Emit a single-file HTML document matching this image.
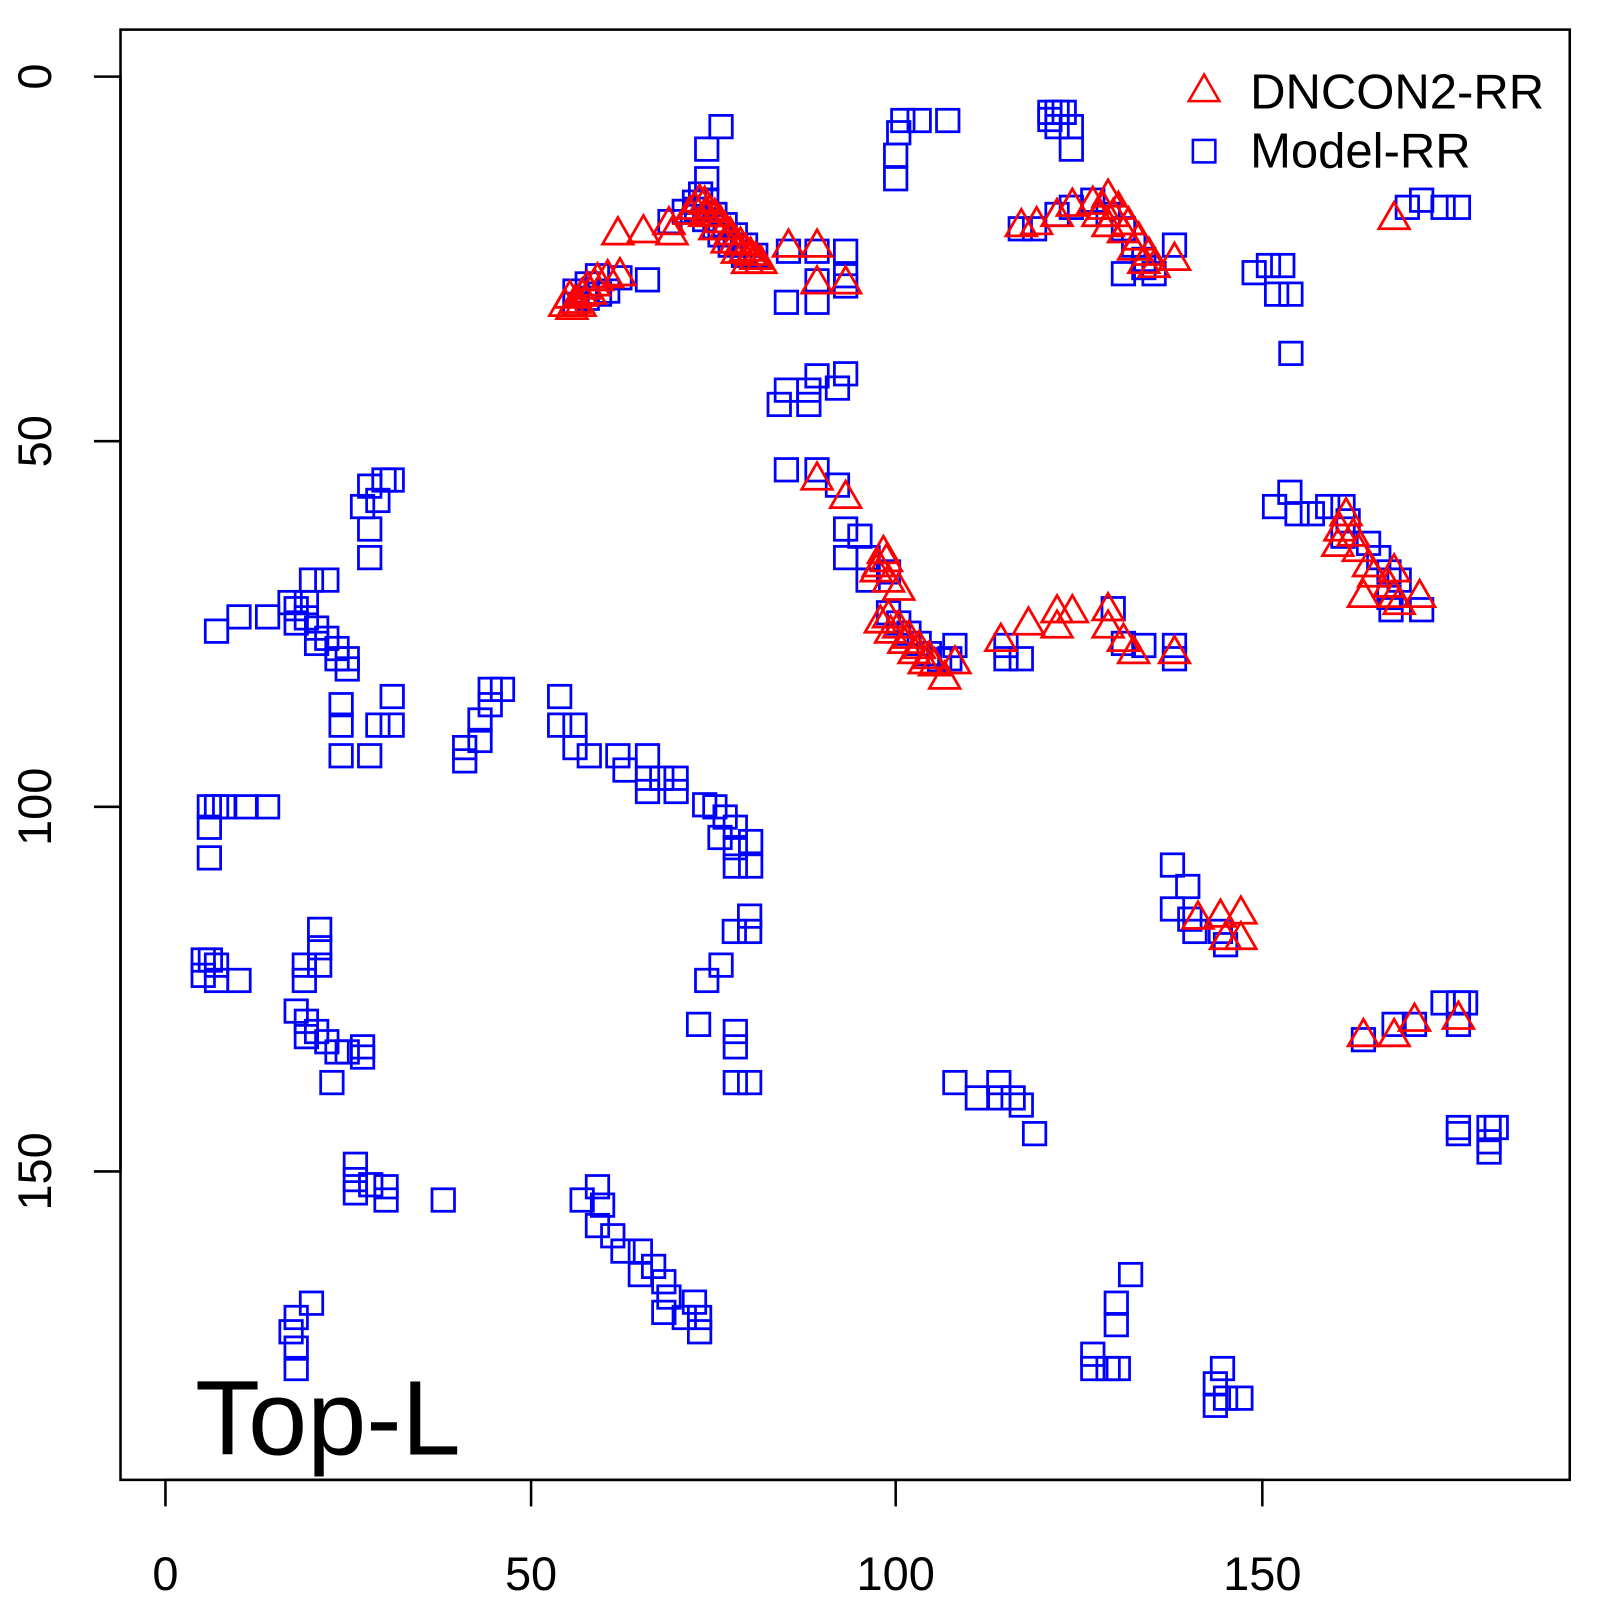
<!DOCTYPE html>
<html><head><meta charset="utf-8"><style>
html,body{margin:0;padding:0;background:#fff;}
svg{display:block;}
text{font-family:"Liberation Sans",sans-serif;}
</style></head><body>
<svg id="s" width="1600" height="1600" xmlns="http://www.w3.org/2000/svg">
<g transform="scale(1.0213)">
<rect x="118" y="29" width="1419" height="1420" fill="none" stroke="#000" stroke-width="2.5"/>
<g stroke="#000" stroke-width="2.5">
<line x1="162" y1="1449" x2="1236" y2="1449"/>
<line x1="162" y1="1449" x2="162" y2="1475"/><line x1="520" y1="1449" x2="520" y2="1475"/>
<line x1="877" y1="1449" x2="877" y2="1475"/><line x1="1236" y1="1449" x2="1236" y2="1475"/>
<line x1="118" y1="75" x2="118" y2="1147"/>
<line x1="92" y1="75" x2="118" y2="75"/><line x1="92" y1="432" x2="118" y2="432"/>
<line x1="92" y1="790" x2="118" y2="790"/><line x1="92" y1="1147" x2="118" y2="1147"/>
</g>
<g font-size="46" text-anchor="middle" fill="#000">
<text x="162" y="1557">0</text><text x="520" y="1557">50</text><text x="877" y="1557">100</text><text x="1236" y="1557">150</text>
<text transform="translate(50,75) rotate(-90)">0</text>
<text transform="translate(50,432) rotate(-90)">50</text>
<text transform="translate(50,790) rotate(-90)">100</text>
<text transform="translate(50,1147) rotate(-90)">150</text>
</g>
<text x="191" y="1424" font-size="104" fill="#000">Top-L</text>
<polygon points="1164,99 1194,99 1179,73" fill="none" stroke="#f00" stroke-width="2.5"/>
<rect x="1168" y="137" width="22" height="22" fill="none" stroke="#00f" stroke-width="2.5"/>
<text x="1224" y="106" font-size="48">DNCON2-RR</text>
<text x="1224" y="164" font-size="48">Model-RR</text>
<g id="sq" fill="none" stroke="#00f" stroke-width="2.7"></g>
<g id="tr" fill="none" stroke="#f00" stroke-width="2.7"></g>
</g>
</svg>
<script>
var S=[[563,285],[575,278],[585,270],[595,285],[563,298],[575,292],[587,288],[607,272],[634,274],[656,217],[670,207],[680,198],[692,196],[700,210],[710,220],[720,230],[730,240],[740,250],[705,230],[715,240],[728,250],[700,222],[690,215],[682,205],[772,246],[800,246],[828,246],[828,270],[800,275],[770,296],[800,296],[828,280],[692,146],[692,175],[706,124],[686,190],[877,152],[877,175],[884,118],[900,118],[928,118],[880,130],[1028,110],[1035,110],[1042,110],[1035,124],[1049,124],[1028,117],[1049,146],[999,224],[1013,224],[1035,210],[1049,203],[1070,196],[1085,210],[1100,224],[1110,240],[1120,254],[1130,268],[1100,268],[1150,240],[1120,262],[1228,267],[1242,260],[1256,260],[1250,288],[1264,288],[1264,346],[1392,196],[1413,203],[1428,203],[1378,203],[763,396],[770,382],[792,382],[792,396],[800,368],[820,380],[828,366],[770,460],[800,460],[820,475],[828,518],[842,525],[828,546],[850,546],[850,568],[870,560],[870,600],[880,610],[890,620],[900,630],[910,640],[920,646],[935,632],[930,645],[985,632],[985,645],[1000,645],[1090,596],[1100,630],[1120,632],[1150,632],[1150,645],[1248,496],[1263,482],[1270,503],[1285,503],[1300,496],[1315,496],[1320,510],[1315,525],[1340,532],[1350,546],[1360,560],[1370,568],[1362,597],[1392,597],[1360,585],[362,476],[376,470],[384,470],[370,490],[355,496],[362,518],[362,546],[305,568],[320,568],[212,618],[234,604],[262,604],[284,590],[290,596],[300,605],[310,615],[320,625],[330,635],[340,645],[340,655],[300,590],[290,610],[310,630],[330,645],[334,690],[334,710],[334,740],[362,740],[370,710],[384,682],[384,710],[455,732],[455,745],[470,725],[470,705],[480,690],[492,675],[480,675],[548,682],[548,710],[563,710],[563,732],[577,740],[605,740],[612,754],[634,740],[634,762],[648,762],[662,762],[634,775],[662,775],[690,788],[700,790],[710,800],[720,810],[705,820],[720,830],[735,824],[720,848],[735,848],[205,790],[212,790],[220,790],[241,790],[262,790],[205,810],[205,840],[734,897],[734,912],[719,912],[706,945],[692,960],[684,1003],[720,1010],[720,1025],[720,1060],[734,1060],[199,940],[206,940],[212,945],[199,955],[212,960],[234,960],[313,910],[313,928],[298,945],[298,960],[313,945],[290,990],[300,1000],[310,1010],[320,1020],[330,1030],[340,1030],[355,1025],[355,1035],[325,1060],[300,1015],[935,1060],[957,1075],[978,1060],[978,1075],[992,1075],[1000,1082],[1013,1110],[1148,847],[1163,868],[1148,890],[1165,900],[1170,912],[1195,912],[1200,925],[1335,1018],[1365,1003],[1385,1003],[1413,982],[1428,982],[1435,982],[1428,1003],[1428,1104],[1458,1104],[1465,1104],[1458,1118],[1458,1128],[1428,1110],[348,1140],[348,1155],[348,1168],[363,1160],[378,1162],[378,1175],[434,1175],[585,1162],[570,1175],[590,1180],[585,1200],[600,1210],[610,1225],[627,1225],[627,1248],[640,1240],[650,1255],[655,1270],[650,1285],[680,1275],[685,1290],[685,1304],[670,1290],[305,1276],[290,1290],[285,1304],[290,1320],[290,1340],[1107,1248],[1093,1276],[1093,1297],[1070,1326],[1070,1340],[1085,1340],[1095,1340],[1197,1340],[1190,1355],[1190,1376],[1200,1369],[1215,1369]];
var T=[[563,297],[558,292],[570,290],[575,283],[585,275],[595,272],[605,230],[607,270],[630,228],[655,220],[658,230],[675,210],[685,198],[695,208],[705,218],[715,230],[725,240],[735,250],[745,258],[772,242],[800,242],[800,278],[828,278],[800,470],[828,488],[865,542],[860,555],[870,570],[880,578],[870,605],[880,615],[890,625],[900,635],[910,645],[925,665],[935,650],[980,628],[1007,612],[1035,600],[1050,600],[1035,615],[1085,598],[1085,615],[1100,628],[1110,640],[1150,640],[1000,222],[1015,220],[1035,212],[1050,202],[1070,200],[1085,193],[1095,205],[1105,220],[1115,235],[1125,250],[1150,255],[1318,505],[1325,525],[1310,535],[1340,555],[1365,560],[1365,585],[1390,585],[1335,585],[1365,215],[1173,900],[1195,898],[1215,895],[1200,920],[1215,920],[1335,1015],[1365,1015],[1385,1000],[1428,998],
[553,300],[560,303],[568,300],[578,288],[582,280],[680,205],[690,200],[700,212],[710,225],[720,238],[730,246],[740,254],[690,212],[700,225],[712,238],[722,248],[732,258],[1080,205],[1090,212],[1100,228],[1110,245],[1120,258],[1130,262],[1075,212],[1085,222],[862,610],[872,620],[885,630],[895,640],[905,650],[915,652],[858,560],[868,550],[1312,520],[1330,540],[1345,565],[1360,575],[1370,592]];
var ns="http://www.w3.org/2000/svg",g=document.getElementById("sq"),h=document.getElementById("tr");
S.forEach(function(p){var r=document.createElementNS(ns,"rect");r.setAttribute("x",p[0]-11);r.setAttribute("y",p[1]-11);r.setAttribute("width",22);r.setAttribute("height",22);g.appendChild(r);});
T.forEach(function(p){var r=document.createElementNS(ns,"polygon");var x=p[0],y=p[1];r.setAttribute("points",(x-15)+","+(y+9)+" "+(x+15)+","+(y+9)+" "+x+","+(y-17));h.appendChild(r);});
</script>
</body></html>
